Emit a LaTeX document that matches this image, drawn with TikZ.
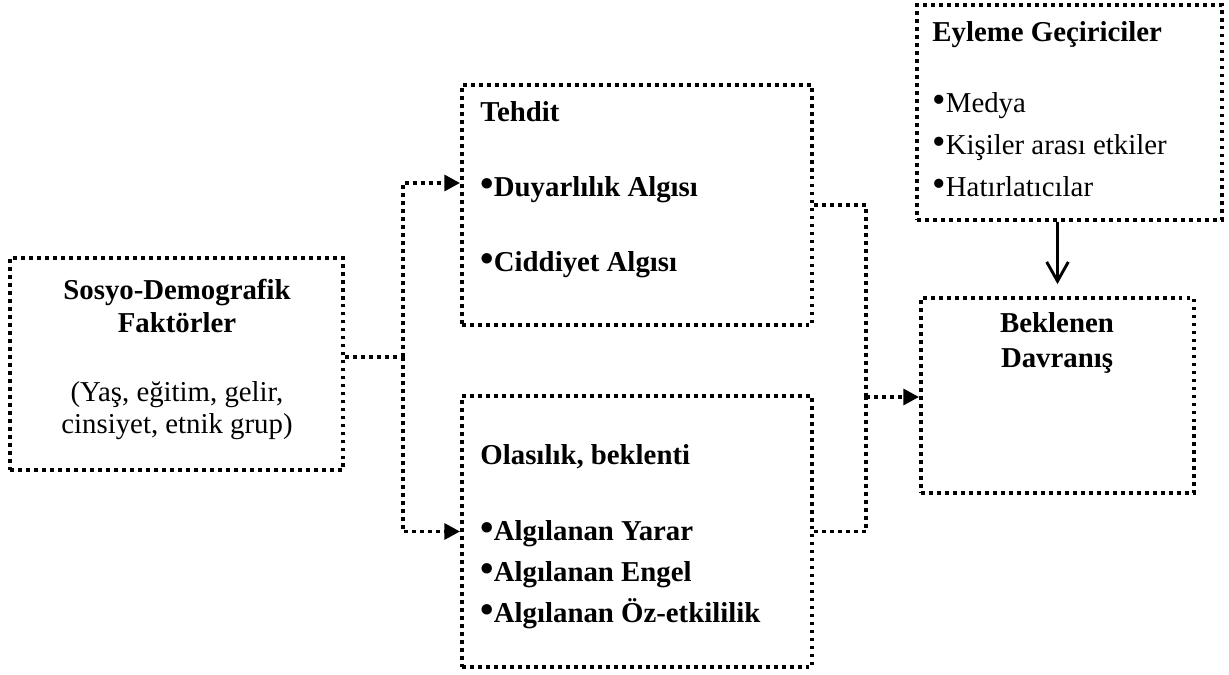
\documentclass[tikz,border=0pt]{standalone}
\usepackage{fontspec}
\setmainfont{Liberation Serif}
\usetikzlibrary{arrows.meta,fit}
% a slightly larger list bullet set tight against its item
\newcommand\itembul{{\fontsize{16}{16}\selectfont•}}
\begin{document}
\begin{tikzpicture}[x=0.41667pt,y=-0.41667pt,
  box/.style={draw, line width=1.6pt, dash pattern=on 1.6pt off 1.73pt, inner sep=0pt},
  link/.style={line width=1.6pt, dash pattern=on 1.6pt off 1.73pt},
  tip/.style={-{Triangle[length=6.5pt,width=6.5pt]}},
  lbl/.style={inner sep=0pt, anchor=base west, font=\fontsize{12}{14}\selectfont},
  clbl/.style={lbl, anchor=base},
  hd/.style={lbl, font=\fontsize{12}{14}\selectfont\bfseries},
  chd/.style={hd, anchor=base}]
\useasboundingbox (0,0) rectangle (1229,675);

% boxes
\node[box, fit={(10,258) (343,470)}] (socio) {};
\node[box, fit={(462,85) (812,325)}] (threat) {};
\node[box, fit={(462,396) (812,667)}] (lik) {};
\node[box, fit={(917,5) (1222,220)}] (act) {};
\node[box, fit={(921,298) (1194,493)}] (beh) {};

% socio-demographic factors
\node[chd] (s1) at (177,300) {Sosyo-Demografik};
\node[chd] (s2) at (177,333) {Faktörler};
\node[clbl] (s3) at (177,402) {(Yaş, eğitim, gelir,};
\node[clbl] (s4) at (177,434) {cinsiyet, etnik grup)};

% threat
\node[hd] (t1) at (480,122) {Tehdit};
\node[hd] (t2) at (480,197) {\itembul Duyarlılık Algısı};
\node[hd] (t3) at (480,272) {\itembul Ciddiyet Algısı};

% likelihood / expectation
\node[hd] (l1) at (480,465) {Olasılık, beklenti};
\node[hd] (l2) at (480,541) {\itembul Algılanan Yarar};
\node[hd] (l3) at (480,582) {\itembul Algılanan Engel};
\node[hd] (l4) at (480,623) {\itembul Algılanan Öz-etkililik};

% cues to action
\node[hd] (a1) at (932,42) {Eyleme Geçiriciler};
\node[lbl] (a2) at (932,113) {\itembul Medya};
\node[lbl] (a3) at (932,155) {\itembul Kişiler arası etkiler};
\node[lbl] (a4) at (932,197) {\itembul Hatırlatıcılar};

% expected behaviour
\node[chd] (b1) at (1057,333) {Beklenen};
\node[chd] (b2) at (1057,368) {Davranış};

% connectors
\coordinate (j1) at (403,357);
\coordinate (tin) at (462,183);
\coordinate (j2) at (866,397);
\draw[link] (socio.east |- j1) -- (j1);
\draw[link,tip] (j1) |- (threat.west |- tin);
\draw[link,tip] (j1) |- (lik.west);
\draw[link] (threat.east) -| (j2);
\draw[link] (lik.east) -| (j2);
\draw[link,tip] (j2) -- (beh.west |- j2);
\draw[line width=1.2pt, -{Straight Barb[length=8pt,width=9pt,line width=1.2pt]}, shorten >=5pt]
  (act.south -| beh.north) -- (beh.north);
\end{tikzpicture}
\end{document}
